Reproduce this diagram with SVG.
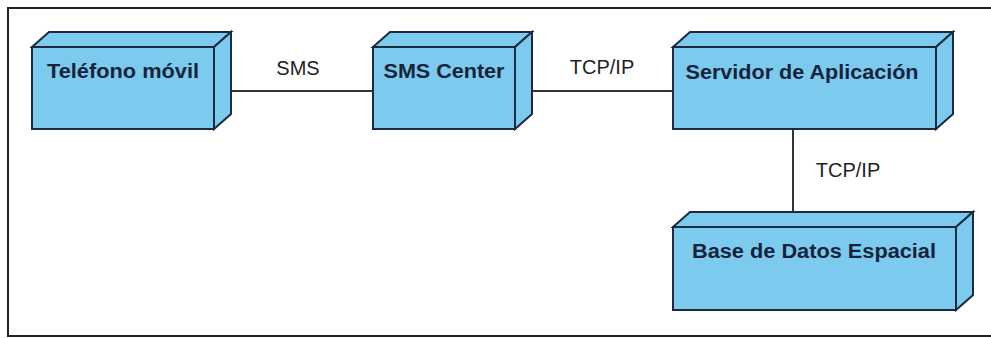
<svg xmlns="http://www.w3.org/2000/svg" width="991" height="338" viewBox="0 0 991 338">
<style>
.face{fill:#7ccbef;stroke:#1c2a40;stroke-width:2;stroke-linejoin:miter}
.nt{font-family:"Liberation Sans",Arial,sans-serif;font-weight:bold;font-size:20px;fill:#16233a;text-anchor:middle}
.lt{font-family:"Liberation Sans",Arial,sans-serif;font-size:20px;fill:#222;text-anchor:middle}
.conn{stroke:#333;stroke-width:2;fill:none}
.frame{stroke:#222;stroke-width:2;fill:none}
</style>
<rect width="991" height="338" fill="#ffffff"/>
<path class="frame" d="M991,8 H8 V336 H991"/>
<g id="connectors">
<line class="conn" x1="231" y1="91" x2="373" y2="91"/>
<line class="conn" x1="532" y1="91" x2="673" y2="91"/>
<line class="conn" x1="793" y1="129" x2="793" y2="212"/>
<text class="lt" x="298" y="75">SMS</text>
<text class="lt" x="602" y="74">TCP/IP</text>
<text class="lt" x="848" y="177">TCP/IP</text>
</g>
<g id="telefono">
<path class="face" d="M32,47 L49,32 H231 L214,47 Z"/>
<path class="face" d="M214,47 L231,32 V114 L214,129 Z"/>
<rect class="face" x="32" y="47" width="182" height="82"/>
<text class="nt" x="123" y="78" textLength="152" lengthAdjust="spacingAndGlyphs">Teléfono móvil</text>
</g>
<g id="smscenter">
<path class="face" d="M373,47 L390,32 H532 L515,47 Z"/>
<path class="face" d="M515,47 L532,32 V114 L515,129 Z"/>
<rect class="face" x="373" y="47" width="142" height="82"/>
<text class="nt" x="444" y="78" textLength="121" lengthAdjust="spacingAndGlyphs">SMS Center</text>
</g>
<g id="servidor">
<path class="face" d="M673,47 L690,32 H953 L936,47 Z"/>
<path class="face" d="M936,47 L953,32 V114 L936,129 Z"/>
<rect class="face" x="673" y="47" width="263" height="82"/>
<text class="nt" x="802" y="79" textLength="233" lengthAdjust="spacingAndGlyphs">Servidor de Aplicación</text>
</g>
<g id="basedatos">
<path class="face" d="M673,227 L690,212 H973 L956,227 Z"/>
<path class="face" d="M956,227 L973,212 V295 L956,310 Z"/>
<rect class="face" x="673" y="227" width="283" height="83"/>
<text class="nt" x="814" y="258" textLength="244" lengthAdjust="spacingAndGlyphs">Base de Datos Espacial</text>
</g>
</svg>
